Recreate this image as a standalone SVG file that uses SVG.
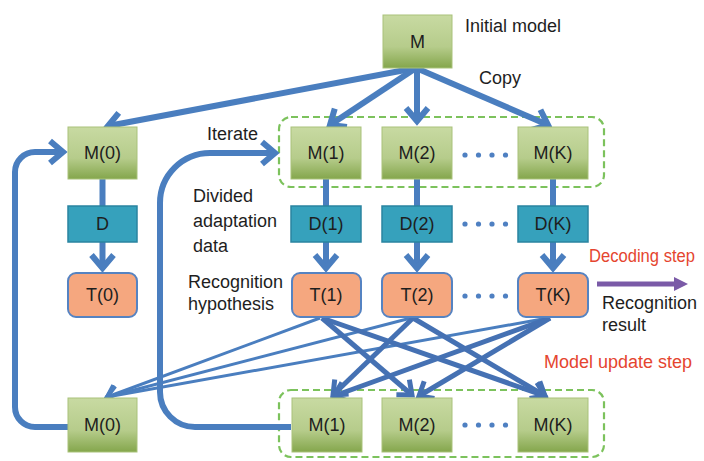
<svg xmlns="http://www.w3.org/2000/svg" width="704" height="461" viewBox="0 0 704 461">
  <defs>
    <linearGradient id="gModel" x1="0" y1="0" x2="0" y2="1">
      <stop offset="0" stop-color="#c8daa2"/>
      <stop offset="0.6" stop-color="#b6cc8b"/>
      <stop offset="1" stop-color="#84a64c"/>
    </linearGradient>
    <marker id="ahBig" markerUnits="userSpaceOnUse" viewBox="-17 -15 24 30" markerWidth="24" markerHeight="30" refX="0" refY="0" orient="auto" overflow="visible">
      <path d="M-13,-11 L0,0 L-13,11" fill="none" stroke="#4a7ebf" stroke-width="6"/>
    </marker>
    <marker id="ahCross" markerUnits="userSpaceOnUse" viewBox="-16 -14 22 28" markerWidth="22" markerHeight="28" refX="0" refY="0" orient="auto" overflow="visible">
      <path d="M-12,-10 L0,0 L-12,10" fill="none" stroke="#4571b3" stroke-width="5"/>
    </marker>
    <marker id="ahThin" markerUnits="userSpaceOnUse" viewBox="-14 -12 20 24" markerWidth="20" markerHeight="24" refX="0" refY="0" orient="auto" overflow="visible">
      <path d="M-10,-9 L0,0 L-10,9" fill="none" stroke="#4a7ebf" stroke-width="4"/>
    </marker>
    <marker id="ahPurple" markerUnits="userSpaceOnUse" viewBox="0 -8 16 16" markerWidth="16" markerHeight="16" refX="2" refY="0" orient="auto" overflow="visible">
      <path d="M0,-7 L14,0 L0,7 Z" fill="#7a5aa7"/>
    </marker>
  </defs>
  <style>
    .model { fill: url(#gModel); stroke: #a9c27a; stroke-width: 1; }
    .data { fill: #36a1bc; stroke: #2a84a0; stroke-width: 1.5; }
    .hyp { fill: #f5a77f; stroke: #5583c2; stroke-width: 2; }
    .group { fill: none; stroke: #7cc25c; stroke-width: 2.2; stroke-dasharray: 7 4; }
    .nlabel { font-family: "Liberation Sans", Arial, sans-serif; font-size: 18px; fill: #1e1e1e; text-anchor: middle; }
    .label { font-family: "Liberation Sans", Arial, sans-serif; font-size: 18px; fill: #1e1e1e; }
    .step { font-family: "Liberation Sans", Arial, sans-serif; font-size: 18px; fill: #e5452f; }
    .flow { fill: none; stroke: #4a7ebf; stroke-width: 6; }
    .flowArrow { fill: none; stroke: #4a7ebf; stroke-width: 6; marker-end: url(#ahBig); }
    .cross { fill: none; stroke: #4571b3; stroke-width: 5; marker-end: url(#ahCross); }
    .toM0 { fill: none; stroke: #4a7ebf; stroke-width: 3; marker-end: url(#ahThin); }
    .dots circle { fill: #4f80c2; }
  </style>

  <rect width="704" height="461" fill="#ffffff"/>

  <!-- dashed group outlines around the split models -->
  <rect class="group" x="279" y="117" width="325" height="70" rx="12"/>
  <rect class="group" x="279" y="390" width="325" height="67" rx="12"/>

  <!-- connectors -->
  <g id="connectors">
    <!-- copy of the initial model -->
    <line class="flowArrow" x1="416" y1="68" x2="108" y2="126"/>
    <line class="flowArrow" x1="416" y1="68" x2="330" y2="125"/>
    <line class="flowArrow" x1="417" y1="68" x2="417" y2="121"/>
    <line class="flowArrow" x1="416" y1="68" x2="548" y2="125"/>

    <!-- model to data -->
    <line class="flow" x1="102.5" y1="179" x2="102.5" y2="206"/>
    <line class="flow" x1="326" y1="179" x2="326" y2="206"/>
    <line class="flow" x1="417" y1="179" x2="417" y2="206"/>
    <line class="flow" x1="553" y1="179" x2="553" y2="206"/>

    <!-- data to hypothesis -->
    <line class="flowArrow" x1="102.5" y1="242" x2="102.5" y2="268"/>
    <line class="flowArrow" x1="326" y1="242" x2="326" y2="268"/>
    <line class="flowArrow" x1="417" y1="242" x2="417" y2="268"/>
    <line class="flowArrow" x1="553" y1="242" x2="553" y2="268"/>

    <!-- hypotheses feeding the updated models -->
    <line class="toM0" x1="320" y1="318" x2="107" y2="397"/>
    <line class="toM0" x1="411" y1="318" x2="107" y2="397"/>
    <line class="toM0" x1="548" y1="318" x2="107" y2="397"/>

    <line class="cross" x1="322" y1="318" x2="412" y2="395"/>
    <line class="cross" x1="322" y1="318" x2="545" y2="396"/>
    <line class="cross" x1="413" y1="318" x2="333" y2="395"/>
    <line class="cross" x1="413" y1="318" x2="545" y2="396"/>
    <line class="cross" x1="550" y1="318" x2="334" y2="396"/>
    <line class="cross" x1="550" y1="318" x2="419" y2="396"/>

    <!-- feedback loops -->
    <path class="flowArrow" d="M68,427 H35 A20,20 0 0 1 15,407 V172 A20,20 0 0 1 35,152 H63"/>
    <path class="flowArrow" d="M291,427 H195 A35,35 0 0 1 160,392 V203 A50,50 0 0 1 210,153 H275"/>

    <!-- recognition result -->
    <line x1="597" y1="284" x2="676" y2="284" stroke="#7a5aa7" stroke-width="5" marker-end="url(#ahPurple)"/>
  </g>

  <!-- nodes -->
  <g id="node-M">
    <rect class="model" x="383" y="15" width="69" height="53"/>
    <text class="nlabel" x="417.5" y="48">M</text>
  </g>

  <g id="node-M0-top">
    <rect class="model" x="68" y="127" width="69" height="52"/>
    <text class="nlabel" x="102.5" y="159">M(0)</text>
  </g>
  <g id="node-M1-top">
    <rect class="model" x="291" y="127" width="70" height="52"/>
    <text class="nlabel" x="326" y="159">M(1)</text>
  </g>
  <g id="node-M2-top">
    <rect class="model" x="382" y="127" width="70" height="52"/>
    <text class="nlabel" x="417" y="159">M(2)</text>
  </g>
  <g id="node-MK-top">
    <rect class="model" x="518" y="127" width="70" height="52"/>
    <text class="nlabel" x="553" y="159">M(K)</text>
  </g>

  <g id="node-D">
    <rect class="data" x="68" y="206" width="69" height="36"/>
    <text class="nlabel" x="102.5" y="230">D</text>
  </g>
  <g id="node-D1">
    <rect class="data" x="291" y="206" width="70" height="36"/>
    <text class="nlabel" x="326" y="230">D(1)</text>
  </g>
  <g id="node-D2">
    <rect class="data" x="382" y="206" width="70" height="36"/>
    <text class="nlabel" x="417" y="230">D(2)</text>
  </g>
  <g id="node-DK">
    <rect class="data" x="518" y="206" width="70" height="36"/>
    <text class="nlabel" x="553" y="230">D(K)</text>
  </g>

  <g id="node-T0">
    <rect class="hyp" x="68" y="273" width="69" height="44" rx="8"/>
    <text class="nlabel" x="102.5" y="301">T(0)</text>
  </g>
  <g id="node-T1">
    <rect class="hyp" x="292" y="273" width="69" height="44" rx="8"/>
    <text class="nlabel" x="326" y="301">T(1)</text>
  </g>
  <g id="node-T2">
    <rect class="hyp" x="382" y="273" width="70" height="44" rx="8"/>
    <text class="nlabel" x="417" y="301">T(2)</text>
  </g>
  <g id="node-TK">
    <rect class="hyp" x="518" y="273" width="70" height="44" rx="8"/>
    <text class="nlabel" x="553" y="301">T(K)</text>
  </g>

  <g id="node-M0-bottom">
    <rect class="model" x="68" y="398" width="69" height="54"/>
    <text class="nlabel" x="102.5" y="431">M(0)</text>
  </g>
  <g id="node-M1-bottom">
    <rect class="model" x="292" y="398" width="70" height="54"/>
    <text class="nlabel" x="327" y="431">M(1)</text>
  </g>
  <g id="node-M2-bottom">
    <rect class="model" x="382" y="398" width="70" height="54"/>
    <text class="nlabel" x="417" y="431">M(2)</text>
  </g>
  <g id="node-MK-bottom">
    <rect class="model" x="518" y="398" width="70" height="54"/>
    <text class="nlabel" x="553" y="431">M(K)</text>
  </g>

  <!-- ellipsis dots between columns -->
  <g class="dots">
    <circle cx="465" cy="155" r="2.6"/><circle cx="478.5" cy="155" r="2.6"/><circle cx="492" cy="155" r="2.6"/><circle cx="505.5" cy="155" r="2.6"/>
    <circle cx="465" cy="224" r="2.6"/><circle cx="478.5" cy="224" r="2.6"/><circle cx="492" cy="224" r="2.6"/><circle cx="505.5" cy="224" r="2.6"/>
    <circle cx="465" cy="296" r="2.6"/><circle cx="478.5" cy="296" r="2.6"/><circle cx="492" cy="296" r="2.6"/><circle cx="505.5" cy="296" r="2.6"/>
    <circle cx="465" cy="425" r="2.6"/><circle cx="478.5" cy="425" r="2.6"/><circle cx="492" cy="425" r="2.6"/><circle cx="505.5" cy="425" r="2.6"/>
  </g>

  <!-- annotations -->
  <text class="label" x="465" y="32">Initial model</text>
  <text class="label" x="479" y="84">Copy</text>
  <text class="label" x="207" y="140">Iterate</text>
  <text class="label" x="193" y="202">Divided</text>
  <text class="label" x="193" y="227">adaptation</text>
  <text class="label" x="193" y="252">data</text>
  <text class="label" x="188" y="288">Recognition</text>
  <text class="label" x="188" y="310">hypothesis</text>
  <text class="step" x="589" y="262" textLength="106" lengthAdjust="spacingAndGlyphs">Decoding step</text>
  <text class="label" x="602" y="309">Recognition</text>
  <text class="label" x="602" y="331">result</text>
  <text class="step" x="544" y="368">Model update step</text>
</svg>
